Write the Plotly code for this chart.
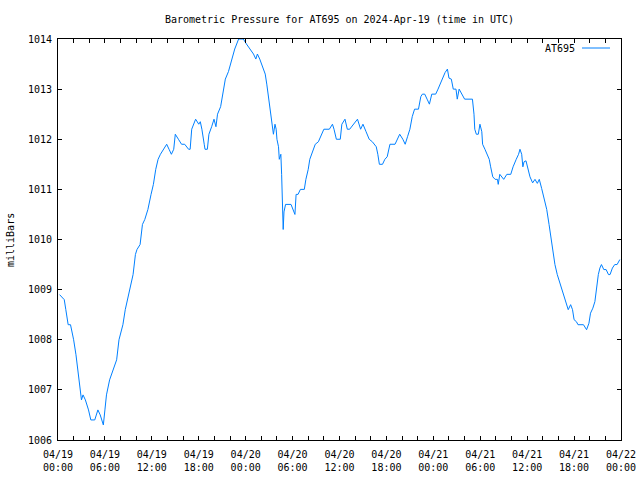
import plotly.graph_objects as go
import pandas as pd

# Hours after 2024-04-19 00:00 UTC
hours = [0.2, 0.8, 1.0, 1.3, 1.6, 2.0, 2.3, 2.6, 2.8, 3.0, 3.2, 3.5, 3.9, 4.2, 4.7, 5.1, 5.4, 5.8,
         6.0, 6.2, 6.6, 7.1, 7.5, 7.8, 8.3, 8.6, 8.9, 9.2, 9.6, 9.9, 10.1, 10.5, 10.8, 11.1, 11.5,
         11.9, 12.2, 12.5, 12.8, 13.1, 13.5, 13.9, 14.2, 14.5, 14.8, 15.0, 15.4, 15.8, 16.2, 16.7,
         16.9, 17.1, 17.6, 18.0, 18.2, 18.4, 18.7, 18.8, 19.1, 19.3, 19.65, 19.95, 20.2, 20.4, 20.8,
         21.1, 21.4, 21.8, 22.2, 22.6, 23.1, 23.7, 24.1, 24.55, 25.0, 25.3, 25.5, 25.8, 26.2, 26.5,
         26.7, 26.9, 27.1, 27.3, 27.45, 27.55, 27.75, 27.9, 28.0, 28.2, 28.3, 28.5, 28.6, 28.7, 28.8,
         28.9, 29.1, 29.8, 30.1, 30.3, 30.45, 30.7, 31.0, 31.5, 31.7, 32.0, 32.2, 32.6, 32.9, 33.3,
         33.6, 34.0, 34.7, 35.1, 35.3, 35.6, 36.1, 36.3, 36.7, 37.0, 37.3, 37.8, 38.3, 38.7, 39.0,
         39.4, 39.8, 40.2, 40.7, 40.9, 41.1, 41.5, 41.8, 42.1, 42.45, 43.1, 43.4, 43.7, 44.1, 44.4,
         44.7, 45.0, 45.3, 45.6, 46.1, 46.4, 46.6, 46.9, 47.2, 47.5, 47.8, 48.3, 48.6, 49.1, 49.5,
         49.8, 50.0, 50.3, 50.55, 50.9, 51.06, 51.3, 51.6, 52.0, 53.0, 53.2, 53.3, 53.5, 53.75, 53.96,
         54.2, 54.3, 54.6, 54.9, 55.15, 55.33, 55.6, 55.9, 56.2, 56.3, 56.5, 57.0, 57.4, 57.9, 58.2,
         58.6, 58.9, 59.08, 59.3, 59.45, 59.6, 59.85, 60.15, 60.36, 60.7, 61.0, 61.3, 61.55, 61.85,
         62.15, 62.5, 62.8, 63.1, 63.35, 63.55, 63.85, 64.2, 64.5, 64.8, 65.05, 65.25, 65.56, 65.8,
         66.0, 66.3, 66.5, 67.2, 67.6, 67.9, 68.1, 68.4, 68.66, 68.9, 69.1, 69.3, 69.5, 69.8, 70.1,
         70.4, 70.6, 70.9, 71.2, 71.5, 71.85]

pressure = [1008.9, 1008.8, 1008.6, 1008.3, 1008.3, 1008.0, 1007.7, 1007.3, 1007.1, 1006.8, 1006.9,
            1006.8, 1006.6, 1006.4, 1006.4, 1006.6, 1006.5, 1006.3, 1006.6, 1006.9, 1007.2, 1007.4,
            1007.6, 1008.0, 1008.3, 1008.6, 1008.8, 1009.0, 1009.3, 1009.7, 1009.8, 1009.9, 1010.3,
            1010.4, 1010.6, 1010.9, 1011.1, 1011.4, 1011.6, 1011.7, 1011.8, 1011.9, 1011.8, 1011.7,
            1011.8, 1012.1, 1012.0, 1011.9, 1011.9, 1011.8, 1011.8, 1012.2, 1012.4, 1012.3, 1012.35,
            1012.2, 1011.9, 1011.8, 1011.8, 1012.1, 1012.25, 1012.4, 1012.25, 1012.5, 1012.65,
            1012.9, 1013.2, 1013.35, 1013.6, 1013.8, 1014.0, 1014.0, 1013.9, 1013.8, 1013.7, 1013.6,
            1013.7, 1013.6, 1013.45, 1013.3, 1013.1, 1012.85, 1012.6, 1012.4, 1012.2, 1012.1, 1012.3,
            1012.2, 1012.0, 1011.85, 1011.6, 1011.7, 1011.3, 1010.55, 1010.2, 1010.55, 1010.7,
            1010.7, 1010.6, 1010.5, 1010.9, 1010.9, 1011.0, 1011.0, 1011.2, 1011.4, 1011.6, 1011.75,
            1011.9, 1011.95, 1012.05, 1012.2, 1012.2, 1012.3, 1012.2, 1012.0, 1012.0, 1012.3, 1012.4,
            1012.2, 1012.2, 1012.3, 1012.4, 1012.2, 1012.3, 1012.15, 1012.0, 1011.95, 1011.85,
            1011.7, 1011.5, 1011.5, 1011.6, 1011.65, 1011.9, 1011.9, 1012.0, 1012.1, 1012.0, 1011.9,
            1012.05, 1012.2, 1012.45, 1012.6, 1012.6, 1012.85, 1012.9, 1012.9, 1012.8, 1012.7,
            1012.9, 1012.9, 1013.0, 1013.2, 1013.33, 1013.4, 1013.22, 1013.2, 1013.0, 1013.0, 1012.8,
            1013.0, 1012.9, 1012.8, 1012.8, 1012.5, 1012.2, 1012.1, 1012.1, 1012.3, 1012.15, 1011.9,
            1011.8, 1011.7, 1011.6, 1011.45, 1011.25, 1011.2, 1011.2, 1011.1, 1011.3, 1011.2, 1011.3,
            1011.3, 1011.45, 1011.6, 1011.7, 1011.8, 1011.7, 1011.45, 1011.55, 1011.57, 1011.35,
            1011.25, 1011.13, 1011.2, 1011.12, 1011.2, 1011.02, 1010.82, 1010.6, 1010.3, 1010.0,
            1009.72, 1009.5, 1009.3, 1009.13, 1008.96, 1008.83, 1008.73, 1008.6, 1008.7, 1008.6,
            1008.4, 1008.36, 1008.3, 1008.3, 1008.2, 1008.33, 1008.53, 1008.63, 1008.76, 1009.06,
            1009.3, 1009.43, 1009.5, 1009.4, 1009.4, 1009.3, 1009.3, 1009.43, 1009.5, 1009.5, 1009.6]

tick_vals = ["2024-04-19 00:00", "2024-04-19 06:00", "2024-04-19 12:00", "2024-04-19 18:00",
             "2024-04-20 00:00", "2024-04-20 06:00", "2024-04-20 12:00", "2024-04-20 18:00",
             "2024-04-21 00:00", "2024-04-21 06:00", "2024-04-21 12:00", "2024-04-21 18:00",
             "2024-04-22 00:00"]
tick_text = ["04/19<br>00:00", "04/19<br>06:00", "04/19<br>12:00", "04/19<br>18:00",
             "04/20<br>00:00", "04/20<br>06:00", "04/20<br>12:00", "04/20<br>18:00",
             "04/21<br>00:00", "04/21<br>06:00", "04/21<br>12:00", "04/21<br>18:00",
             "04/22<br>00:00"]

base = pd.Timestamp("2024-04-19 00:00")
times = base + pd.to_timedelta(hours, unit="h")

FONT = "DejaVu Sans Mono"
LINE_COLOR = "rgb(0,128,255)"

fig = go.Figure()
fig.add_trace(go.Scatter(x=times, y=pressure, mode="lines",
                         line=dict(color=LINE_COLOR, width=1), name="AT695",
                         showlegend=False))

fig.update_layout(
    width=640, height=480,
    margin=dict(l=58, r=19, t=39, b=40, autoexpand=False),
    paper_bgcolor="white", plot_bgcolor="white",
    font=dict(family=FONT, size=10, color="black"),
    title=dict(text="Barometric Pressure for AT695 on 2024-Apr-19 (time in UTC)",
               x=0.5305, xanchor="center", y=1 - 19 / 480, yanchor="middle",
               font=dict(family=FONT, size=10, color="black")),
    xaxis=dict(range=[tick_vals[0], tick_vals[-1]], tickvals=tick_vals, ticktext=tick_text,
               automargin=False,
               showgrid=False, zeroline=False, showline=True, linecolor="black", linewidth=1,
               mirror="ticks", ticks="inside", ticklen=4, tickcolor="black",
               ticklabelstandoff=5,
               minor=dict(dtick=2 * 3600 * 1000, ticks="inside", ticklen=4,
                          tickcolor="black", showgrid=False),
               tickfont=dict(family=FONT, size=10)),
    yaxis=dict(range=[1006, 1014], dtick=1, tick0=1006, showgrid=False, zeroline=False,
               automargin=False,
               showline=True, linecolor="black", linewidth=1, mirror="ticks",
               ticks="inside", ticklen=4, tickcolor="black", ticklabelstandoff=3,
               tickfont=dict(family=FONT, size=10)),
)

# y-axis title
fig.add_annotation(xref="paper", yref="paper", x=(10 - 58) / 563, y=(440 - 240) / 401,
                   text="milliBars", showarrow=False, textangle=-90,
                   xanchor="center", yanchor="middle",
                   font=dict(family=FONT, size=10, color="black"))

# legend (gnuplot style: text then sample line)
fig.add_annotation(xref="paper", yref="paper", x=(577 - 58) / 563, y=(440 - 48) / 401,
                   text="AT695", showarrow=False, xanchor="right", yanchor="middle",
                   font=dict(family=FONT, size=10, color="black"))
fig.add_shape(type="line", xref="paper", yref="paper",
              x0=(582 - 58) / 563, x1=(610 - 58) / 563,
              y0=(440 - 48) / 401, y1=(440 - 48) / 401,
              line=dict(color=LINE_COLOR, width=1))

fig.write_html("out.html")
